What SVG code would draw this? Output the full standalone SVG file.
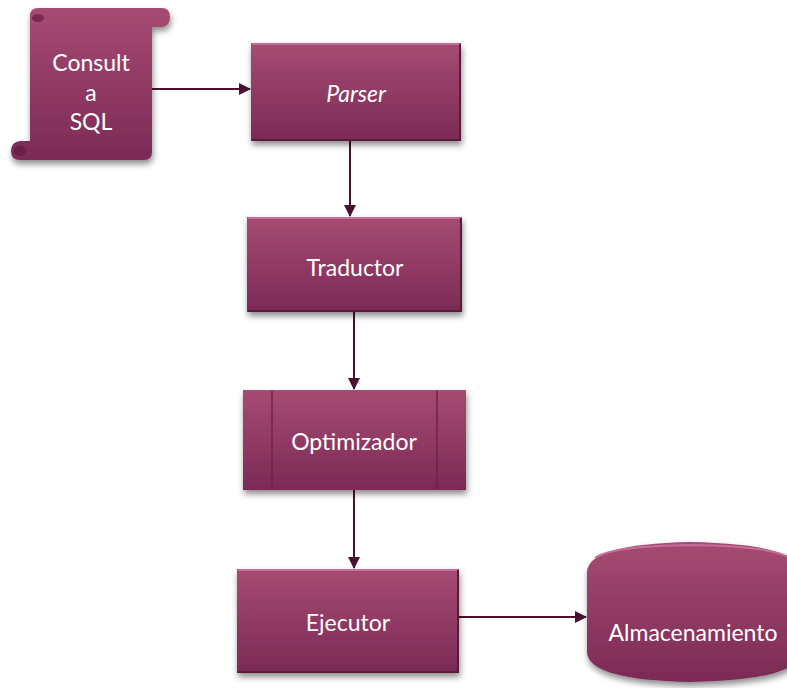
<svg xmlns="http://www.w3.org/2000/svg" width="787" height="688" viewBox="0 0 787 688">
<style>
.lbl{font-family:Lato,"Open Sans","Liberation Sans",sans-serif;font-size:23px;fill:#ffffff;text-anchor:middle;dominant-baseline:central}
.box{fill:url(#g);filter:url(#sh)}
.hi{fill:none;stroke:#c56f96;stroke-width:2}
.lo{fill:none;stroke:#5a1a3c;stroke-width:2}
.conn{stroke:#4a1030;stroke-width:2;fill:none;marker-end:url(#ah)}
</style>
<defs>
<linearGradient id="g" x1="0" y1="0" x2="0" y2="1">
<stop offset="0" stop-color="#a64b73"/>
<stop offset="1" stop-color="#7b2a55"/>
</linearGradient>
<filter id="sh" x="-20%" y="-20%" width="140%" height="150%">
<feDropShadow dx="1" dy="4" stdDeviation="3" flood-color="#000" flood-opacity="0.45"/>
</filter>
<marker id="ah" markerWidth="12" markerHeight="12" refX="11" refY="6" orient="auto" markerUnits="userSpaceOnUse">
<path d="M0,0 L12,6 L0,12 z" fill="#4a1030"/>
</marker>
</defs>
<g id="connectors">
<line class="conn" x1="152" y1="89" x2="250" y2="89"/>
<line class="conn" x1="350" y1="141" x2="350" y2="216"/>
<line class="conn" x1="354" y1="312" x2="354" y2="389"/>
<line class="conn" x1="354" y1="490" x2="354" y2="568"/>
<line class="conn" x1="459" y1="617" x2="586" y2="617"/>
</g>
<g id="consulta">
<path class="box" d="M30,16 Q30,8 38,8 L162,8 Q170,8 170,17 Q170,26 162,27 L152,27 L152,152 Q152,160 144,160 L20,160 Q11,160 11,151 Q11,142 20,141 L30,141 Z"/>
<ellipse cx="38" cy="18" rx="6" ry="4" fill="#7a2a52"/>
<ellipse cx="20" cy="151" rx="6" ry="5" fill="#6a2046"/>
<text class="lbl" x="91" y="62">Consult</text>
<text class="lbl" x="91" y="92">a</text>
<text class="lbl" x="91" y="121">SQL</text>
</g>
<g id="parser">
<rect class="box" x="251" y="43" width="210" height="98"/>
<path class="hi" d="M252,44 H460"/>
<path class="lo" d="M460,44 V140 H252"/>
<text class="lbl" x="356" y="93" font-style="italic">Parser</text>
</g>
<g id="traductor">
<rect class="box" x="247" y="217" width="215" height="95"/>
<path class="hi" d="M248,218 H461"/>
<path class="lo" d="M461,218 V311 H248"/>
<text class="lbl" x="355" y="267">Traductor</text>
</g>
<g id="optimizador">
<rect class="box" x="243" y="390" width="223" height="100"/>
<line x1="272" y1="391" x2="272" y2="489" stroke="#6e2349" stroke-width="1.5"/>
<line x1="437" y1="391" x2="437" y2="489" stroke="#6e2349" stroke-width="1.5"/>
<text class="lbl" x="354" y="441">Optimizador</text>
</g>
<g id="ejecutor">
<rect class="box" x="237" y="569" width="222" height="104"/>
<path class="hi" d="M238,570 H458"/>
<path class="lo" d="M458,570 V672 H238"/>
<text class="lbl" x="348" y="622">Ejecutor</text>
</g>
<g id="almacenamiento">
<path class="box" d="M587,572 Q588,544 690,542 Q800,544 800,572 L800,652 Q800,680 690,682 Q588,680 587,652 Z"/>
<path d="M595,558 Q612,546 690,545 Q770,546 790,558" fill="none" stroke="#c56f96" stroke-width="2"/>
<text class="lbl" x="693" y="632">Almacenamiento</text>
</g>
</svg>
